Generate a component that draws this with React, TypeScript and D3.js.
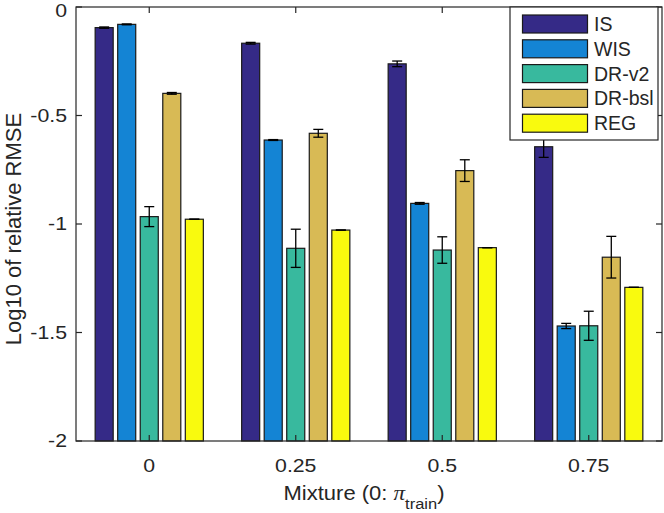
import React from 'react';
import * as d3 from 'd3';

const categories = ['0', '0.25', '0.5', '0.75'];
const seriesNames = ['IS', 'WIS', 'DR-v2', 'DR-bsl', 'REG'];
const seriesColors = ['#352a87', '#1484d4', '#38b99e', '#d8ba55', '#f9fa0e'];

// mean log10 relative RMSE per series, one value per mixture
const isValues = [-0.095, -0.167, -0.262, -0.644];
const wisValues = [-0.08, -0.613, -0.905, -1.47];
const drV2Values = [-0.966, -1.112, -1.12, -1.469];
const drBslValues = [-0.398, -0.582, -0.754, -1.153];
const regValues = [-0.978, -1.028, -1.109, -1.292];

// half-widths of the error bars
const isErr = [0.003, 0.004, 0.013, 0.049];
const wisErr = [0.002, 0.002, 0.004, 0.012];
const drV2Err = [0.046, 0.088, 0.061, 0.067];
const drBslErr = [0.004, 0.018, 0.05, 0.096];
const regErr = [0, 0, 0, 0];

const yTicks = [-2, -1.5, -1, -0.5, 0];

const values = [isValues, wisValues, drV2Values, drBslValues, regValues];
const errors = [isErr, wisErr, drV2Err, drBslErr, regErr];

const W = 664;
const H = 513;
const left = 76;
const right = 662;
const top = 7;
const bottom = 441;
const axisColor = '#262626';
const font = '"Liberation Sans", Arial, Helvetica, sans-serif';
const tickFont = 18.5;
const tickStretch = 1.15;

const App: React.FC = () => {
  const x = d3.scaleLinear().domain([-0.5, categories.length - 0.5]).range([left, right]);
  const y = d3.scaleLinear().domain([-2, 0]).range([bottom, top]);

  // MATLAB grouped bar geometry
  const n = seriesNames.length;
  const groupWidth = Math.min(0.8, n / (n + 1.5));
  const step = groupWidth / n;
  const barW = x(step * 0.8) - x(0);
  const capW = 10;
  const tickLen = 6;

  const legendX = 510;
  const legendY = top;
  const legendW = 148;
  const legendH = 133;

  return (
    <svg
      width={W}
      height={H}
      style={{ position: 'absolute', left: 0, top: 0, background: '#fff' }}
      fontFamily={font}
    >
      {/* bars */}
      {values.map((vals, si) =>
        vals.map((v, ci) => {
          const cx = x(ci + (si - (n - 1) / 2) * step);
          return (
            <rect
              key={`b-${si}-${ci}`}
              x={cx - barW / 2}
              y={y(v)}
              width={barW}
              height={y(-2) - y(v)}
              fill={seriesColors[si]}
              stroke="#1a1a1a"
              strokeWidth={1.2}
            />
          );
        })
      )}

      {/* error bars */}
      {values.map((vals, si) =>
        vals.map((v, ci) => {
          const cx = x(ci + (si - (n - 1) / 2) * step);
          const e = errors[si][ci];
          const y1 = y(v + e);
          const y2 = y(v - e);
          return (
            <g key={`e-${si}-${ci}`} stroke="#000" strokeWidth={1.3}>
              <line x1={cx} x2={cx} y1={y1} y2={y2} />
              <line x1={cx - capW / 2} x2={cx + capW / 2} y1={y1} y2={y1} />
              <line x1={cx - capW / 2} x2={cx + capW / 2} y1={y2} y2={y2} />
            </g>
          );
        })
      )}

      {/* axes box */}
      <rect
        x={left}
        y={top}
        width={right - left}
        height={bottom - top}
        fill="none"
        stroke={axisColor}
        strokeWidth={1.2}
      />

      {/* x ticks */}
      {categories.map((c, i) => (
        <g key={`xt-${c}`}>
          <line x1={x(i)} x2={x(i)} y1={bottom} y2={bottom - tickLen} stroke={axisColor} strokeWidth={1.2} />
          <line x1={x(i)} x2={x(i)} y1={top} y2={top + tickLen} stroke={axisColor} strokeWidth={1.2} />
          <g transform={`translate(${x(i)}, 472) scale(${tickStretch}, 1)`}>
            <text textAnchor="middle" fontSize={tickFont} fill={axisColor}>
              {c}
            </text>
          </g>
        </g>
      ))}

      {/* y ticks */}
      {yTicks.map((t) => (
        <g key={`yt-${t}`}>
          <line x1={left} x2={left + tickLen} y1={y(t)} y2={y(t)} stroke={axisColor} strokeWidth={1.2} />
          <line x1={right} x2={right - tickLen} y1={y(t)} y2={y(t)} stroke={axisColor} strokeWidth={1.2} />
          <g transform={`translate(${left - 9}, ${Math.max(y(t), 11)}) scale(${tickStretch}, 1)`}>
            <text dy="0.35em" textAnchor="end" fontSize={tickFont} fill={axisColor}>
              {String(t)}
            </text>
          </g>
        </g>
      ))}

      {/* axis labels */}
      <g transform="translate(364, 500) scale(1.1, 1)">
        <text textAnchor="middle" fontSize={20} fill={axisColor}>
          Mixture (0:{' '}
          <tspan fontFamily='"Liberation Serif", "DejaVu Serif", serif' fontStyle="italic" fontSize={21}>
            π
          </tspan>
          <tspan fontSize={15} dy={9}>
            train
          </tspan>
          <tspan dy={-9}>)</tspan>
        </text>
      </g>
      <text
        transform={`translate(20.5, ${(top + bottom) / 2 + 5}) rotate(-90)`}
        textAnchor="middle"
        fontSize={22}
        fill={axisColor}
      >
        Log10 of relative RMSE
      </text>

      {/* legend */}
      <rect
        x={legendX}
        y={legendY}
        width={legendW}
        height={legendH}
        fill="#fff"
        stroke={axisColor}
        strokeWidth={1.2}
      />
      {seriesNames.map((name, i) => {
        const cy = legendY + 17 + i * 24.8;
        return (
          <g key={`lg-${name}`}>
            <rect
              x={522.5}
              y={cy - 9}
              width={65}
              height={18}
              fill={seriesColors[i]}
              stroke="#1a1a1a"
              strokeWidth={1.2}
            />
            <text x={594} y={cy} dy="0.36em" fontSize={19.5} fill={axisColor}>
              {name}
            </text>
          </g>
        );
      })}
    </svg>
  );
};

export default App;
